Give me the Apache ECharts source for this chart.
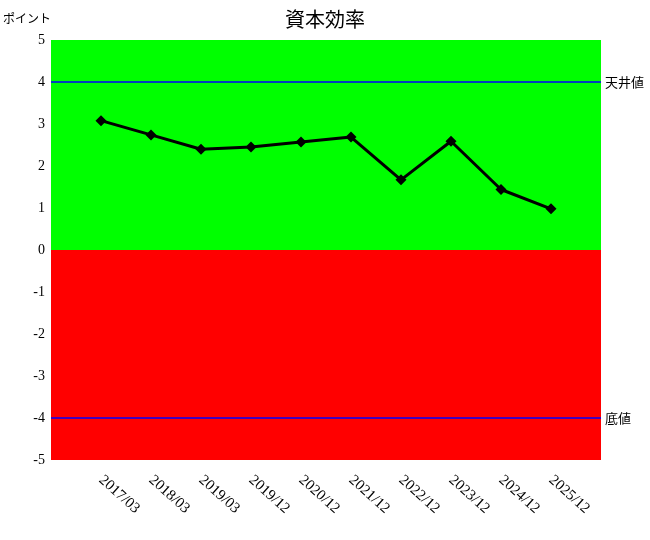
<!DOCTYPE html>
<html>
<head>
<meta charset="utf-8">
<script src="https://cdn.jsdelivr.net/npm/echarts@6/dist/echarts.min.js"></script>
<style>html,body{margin:0;padding:0;background:#fff}#c{width:650px;height:540px}</style>
</head>
<body>
<div id="c"></div>
<script>
const categories = ['2017/03','2018/03','2019/03','2019/12','2020/12','2021/12','2022/12','2023/12','2024/12','2025/12'];
const values = [3.08, 2.74, 2.40, 2.45, 2.57, 2.69, 1.67, 2.59, 1.44, 0.98];
const ceilingValue = 4;
const floorValue = -4;
const yTicks = { min: -5, max: 5, interval: 1 };

const xData = [''].concat(categories, ['']);
const seriesData = [null].concat(values, [null]);
const FONT = "'Liberation Serif', 'Noto Sans CJK JP', serif";
const JFONT = "'Noto Sans CJK JP', sans-serif";

const chart = echarts.init(document.getElementById('c'));
chart.setOption({
  animation: false,
  backgroundColor: '#fff',
  title: {
    text: '資本効率', left: 'center', top: 4,
    textStyle: { fontFamily: JFONT, fontSize: 20, fontWeight: 'normal', color: '#000' }
  },
  grid: { left: 50, top: 40, right: 49, bottom: 80, containLabel: false },
  xAxis: {
    type: 'category', data: xData, boundaryGap: false,
    axisLine: { show: false }, axisTick: { show: false }, splitLine: { show: false },
    axisLabel: { rotate: -42, margin: 18, interval: 0, color: '#000', fontFamily: FONT, fontSize: 15 }
  },
  yAxis: {
    type: 'value', min: yTicks.min, max: yTicks.max, interval: yTicks.interval,
    name: 'ポイント', nameLocation: 'end', nameGap: 22,
    nameTextStyle: { align: 'right', verticalAlign: 'middle', fontFamily: JFONT, fontSize: 12, color: '#000' },
    axisLine: { show: false }, axisTick: { show: false }, splitLine: { show: false },
    axisLabel: { color: '#000', fontFamily: FONT, fontSize: 14, margin: 6 }
  },
  series: [
    {
      type: 'line', data: [], z: 1, silent: true,
      markArea: {
        silent: true, z: 1,
        data: [
          [{ yAxis: 0, itemStyle: { color: '#00ff00', opacity: 1 } }, { yAxis: yTicks.max }],
          [{ yAxis: yTicks.min, itemStyle: { color: '#ff0000', opacity: 1 } }, { yAxis: 0 }]
        ]
      }
    },
    {
      type: 'line', data: [], z: 4, silent: true,
      markLine: {
        silent: true, symbol: 'none', z: 4,
        lineStyle: { color: '#0000ff', width: 1.5, type: 'solid', opacity: 1 },
        label: { position: 'end', formatter: '{b}', color: '#000', fontFamily: JFONT, fontSize: 13, distance: 4 },
        data: [
          { name: '天井値', yAxis: ceilingValue },
          { name: '底値', yAxis: floorValue }
        ]
      }
    },
    {
      type: 'line', data: seriesData, connectNulls: false,
      symbol: 'diamond', symbolSize: 11,
      lineStyle: { color: '#000', width: 3 },
      itemStyle: { color: '#000' },
      z: 5
    }
  ]
});
</script>
</body>
</html>
